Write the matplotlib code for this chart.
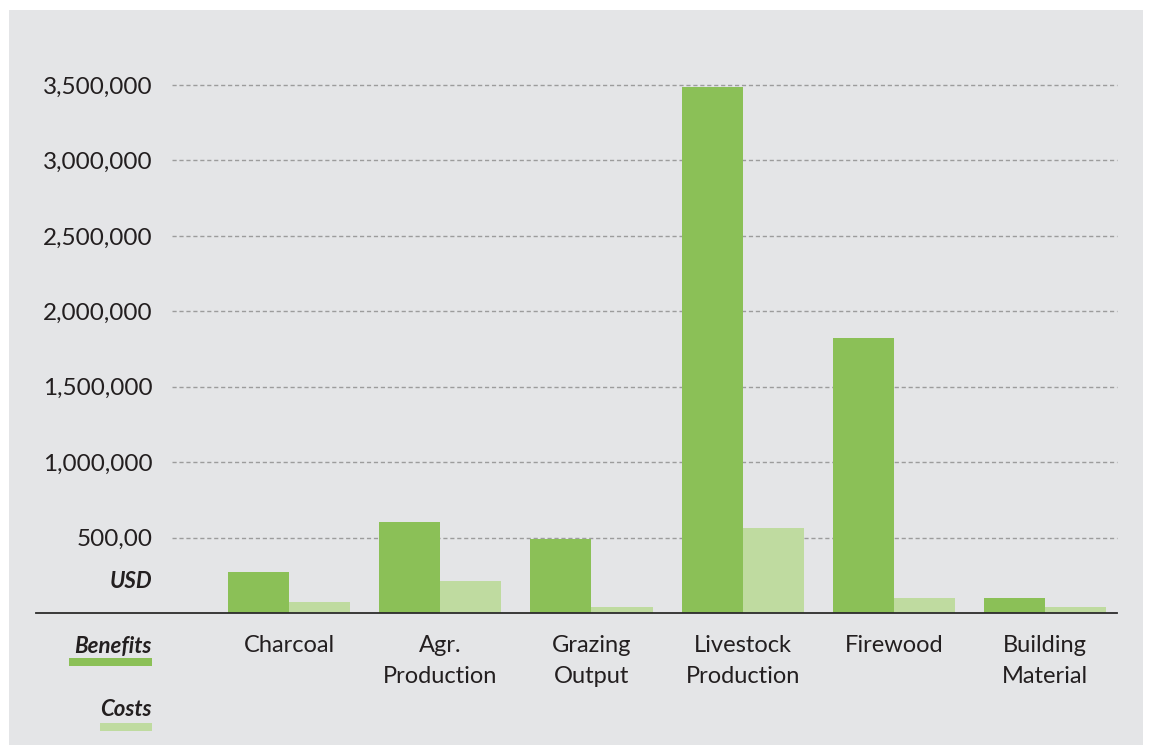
import matplotlib
matplotlib.use("Agg")
import matplotlib.pyplot as plt
from matplotlib.patches import Rectangle
import numpy as np

plt.rcParams['font.family'] = ['Lato', 'DejaVu Sans']

# data
categories = ['Charcoal', 'Agr.\nProduction', 'Grazing\nOutput', 'Livestock\nProduction', 'Firewood', 'Building\nMaterial']
benefits = [270000, 600000, 490000, 3485000, 1825000, 100000]
costs = [70000, 215000, 40000, 565000, 100000, 40000]
yticks = [500000, 1000000, 1500000, 2000000, 2500000, 3000000, 3500000]
ytick_labels = ['500,00', '1,000,000', '1,500,000', '2,000,000', '2,500,000', '3,000,000', '3,500,000']

green = '#8BC057'
light_green = '#BFDBA0'
bg = '#E4E5E7'
txt = '#231F20'

W, H = 1149, 749
fig = plt.figure(figsize=(W / 100, H / 100), dpi=100)
fig.patch.set_facecolor('white')

# gray panel
fig.add_artist(Rectangle((9 / W, 1 - 745 / H), (1143 - 9) / W, (745 - 10) / H,
                         transform=fig.transFigure, facecolor=bg, edgecolor='none', zorder=-10))

ax = fig.add_axes([172 / W, 1 - 613 / H, (1117 - 172) / W, (613 - 85) / H])
ax.set_facecolor('none')

x = np.arange(len(categories))
w = 0.404
ax.bar(x - w / 2, benefits, width=w, color=green, zorder=3)
ax.bar(x + w / 2, costs, width=w, color=light_green, zorder=3)

ax.set_xlim(-0.775, 5.477)
ax.set_ylim(0, 3500000)

for v in yticks:
    ax.axhline(v, color='#9C9C9C', linestyle=(0, (3, 2)), linewidth=1, zorder=1, clip_on=False)

# baseline
ax.axhline(0, xmin=-0.1439, xmax=1, color='#2B2B2B', linewidth=1.3, clip_on=False, zorder=4)

for s in ax.spines.values():
    s.set_visible(False)

ax.set_yticks(yticks)
ax.set_yticklabels(ytick_labels, fontsize=17.5, color=txt)
ax.tick_params(axis='y', length=0, pad=14)

ax.set_xticks(x)
ax.set_xticklabels(categories, fontsize=17, color=txt, linespacing=1.55, va='top')
ax.tick_params(axis='x', length=0, pad=16)

# USD label
fig.text(152 / W, 1 - 581 / H, 'USD', ha='right', va='center', fontsize=16,
         fontweight='bold', style='italic', color=txt)

# legend
fig.text(152 / W, 1 - 646 / H, 'Benefits', ha='right', va='center', fontsize=16,
         fontweight='bold', style='italic', color=txt)
fig.add_artist(Rectangle((69 / W, 1 - 666 / H), (152 - 69) / W, 8 / H,
                         transform=fig.transFigure, facecolor=green, edgecolor='none'))
fig.text(152 / W, 1 - 710 / H, 'Costs', ha='right', va='center', fontsize=16,
         fontweight='bold', style='italic', color=txt)
fig.add_artist(Rectangle((100 / W, 1 - 731 / H), (152 - 100) / W, 8 / H,
                         transform=fig.transFigure, facecolor=light_green, edgecolor='none'))

fig.savefig('out.png', dpi=100)
